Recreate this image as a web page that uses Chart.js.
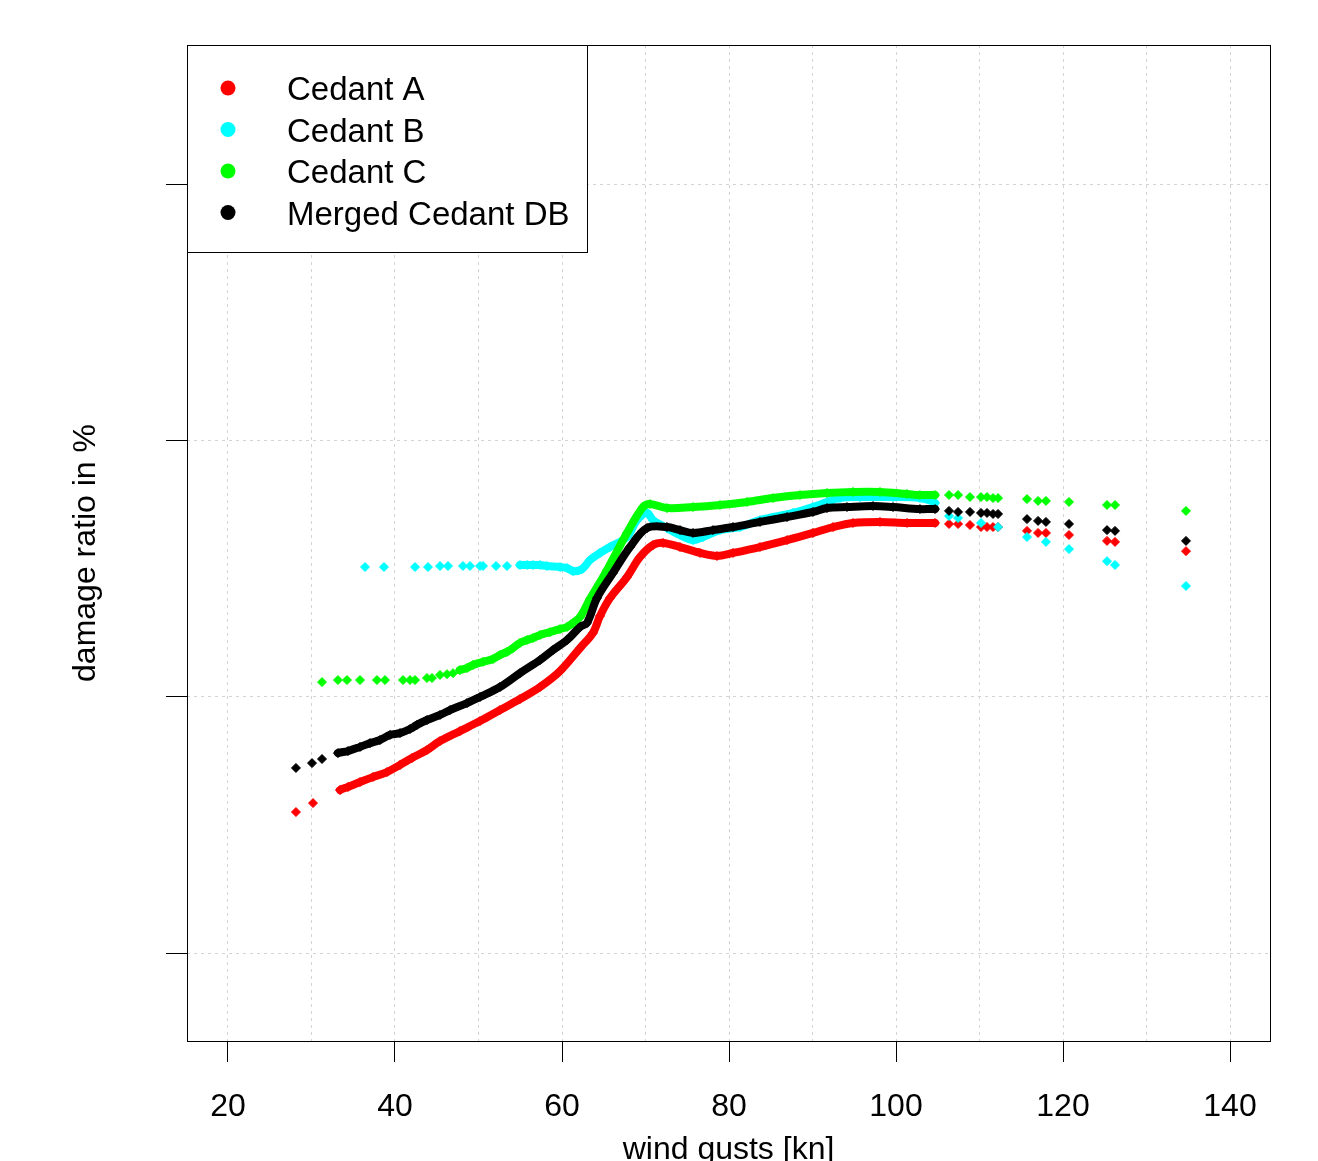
<!DOCTYPE html>
<html>
<head>
<meta charset="utf-8">
<title>Damage ratio vs wind gusts</title>
<script src="https://cdn.jsdelivr.net/npm/chart.js@4.4.0/dist/chart.umd.min.js"></script>
<style>
  html, body { margin: 0; padding: 0; background: #fff; }
</style>
</head>
<body>
<canvas id="damageChartEl" width="1318" height="1161"></canvas>
<script>
const FONT = "'Liberation Sans', Arial, Helvetica, sans-serif";

// wind gusts [kn] / damage ratio values
const cedantA_x = [28.14, 30.18, 33.41, 34.37, 35.81, 37.37, 39.04, 40.60, 42.04, 43.83, 45.39, 47.78, 50.18, 52.57, 54.97, 57.37, 59.76, 62.16, 63.71, 64.55, 65.75, 67.78, 69.34, 70.90, 72.10, 74.13, 76.53, 78.56, 80.48, 83.71, 86.95, 90.06, 92.46, 94.85, 98.08, 101.32, 104.67, 106.35, 107.43, 108.86, 110.18, 110.90, 111.62, 112.22, 115.69, 117.01, 117.96, 120.72, 125.27, 126.23, 134.73];
const cedantA_y = [5.50, 5.85, 6.36, 6.48, 6.67, 6.87, 7.06, 7.34, 7.61, 7.92, 8.27, 8.66, 9.05, 9.48, 9.91, 10.38, 11.00, 11.90, 12.49, 13.15, 13.85, 14.67, 15.45, 15.92, 16.00, 15.84, 15.61, 15.49, 15.61, 15.84, 16.11, 16.39, 16.62, 16.78, 16.82, 16.78, 16.78, 16.74, 16.74, 16.70, 16.62, 16.62, 16.62, 16.62, 16.47, 16.39, 16.39, 16.31, 16.08, 16.04, 15.68];

const cedantB_x = [36.41, 38.68, 42.40, 43.95, 45.39, 46.35, 48.14, 48.98, 50.18, 50.54, 52.10, 53.41, 54.97, 55.81, 56.53, 57.37, 58.20, 59.76, 60.60, 61.32, 62.40, 63.35, 64.55, 65.75, 67.78, 68.98, 70.18, 70.90, 72.57, 74.13, 75.69, 76.89, 78.92, 81.32, 83.71, 87.66, 90.06, 91.74, 93.29, 95.69, 99.64, 102.87, 104.67, 106.35, 107.43, 110.18, 112.22, 115.69, 117.96, 120.72, 125.27, 126.23, 134.73];
const cedantB_y = [15.06, 15.06, 15.06, 15.06, 15.10, 15.10, 15.10, 15.10, 15.10, 15.10, 15.10, 15.10, 15.14, 15.14, 15.14, 15.14, 15.10, 15.06, 15.02, 14.90, 14.98, 15.33, 15.61, 15.84, 16.23, 16.89, 17.17, 16.89, 16.58, 16.31, 16.11, 16.23, 16.50, 16.62, 16.89, 17.17, 17.40, 17.60, 17.75, 17.79, 17.79, 17.75, 17.56, 17.05, 16.97, 16.78, 16.62, 16.23, 16.04, 15.76, 15.29, 15.14, 14.32];

const cedantC_x = [31.26, 33.17, 34.25, 35.81, 37.84, 38.80, 40.96, 41.80, 42.40, 43.83, 44.43, 45.39, 46.23, 46.95, 47.78, 48.62, 49.34, 50.54, 51.74, 52.57, 53.41, 54.13, 54.97, 55.81, 56.53, 57.37, 58.56, 59.76, 60.60, 61.32, 62.16, 63.35, 65.39, 67.78, 69.70, 70.54, 72.57, 75.69, 78.92, 82.16, 85.27, 88.50, 91.74, 94.85, 98.08, 101.32, 102.87, 104.67, 106.35, 107.43, 108.86, 110.18, 110.90, 111.62, 112.22, 115.69, 117.01, 117.96, 120.72, 125.27, 126.23, 134.73];
const cedantC_y = [10.57, 10.65, 10.65, 10.65, 10.65, 10.65, 10.65, 10.65, 10.65, 10.73, 10.73, 10.85, 10.88, 10.92, 11.04, 11.12, 11.24, 11.36, 11.47, 11.63, 11.75, 11.90, 12.10, 12.21, 12.29, 12.41, 12.52, 12.64, 12.72, 12.88, 13.11, 13.81, 14.94, 16.39, 17.40, 17.52, 17.36, 17.40, 17.48, 17.60, 17.75, 17.87, 17.95, 17.99, 17.99, 17.91, 17.87, 17.87, 17.87, 17.87, 17.79, 17.79, 17.79, 17.75, 17.75, 17.71, 17.64, 17.64, 17.60, 17.48, 17.48, 17.25];

const merged_x = [28.14, 30.06, 31.26, 33.17, 34.37, 35.81, 37.01, 38.20, 39.40, 40.60, 41.80, 42.63, 43.83, 45.39, 46.59, 48.62, 50.18, 52.57, 54.97, 57.37, 58.92, 60.60, 62.16, 62.99, 64.19, 66.11, 68.14, 70.18, 72.57, 74.13, 75.69, 78.08, 80.48, 83.71, 86.95, 90.06, 91.74, 94.13, 97.25, 99.64, 102.87, 104.67, 106.35, 107.43, 108.86, 110.18, 110.90, 111.62, 112.22, 115.69, 117.01, 117.96, 120.72, 125.27, 126.23, 134.73];
const merged_y = [7.22, 7.41, 7.57, 7.80, 7.88, 8.04, 8.19, 8.31, 8.51, 8.58, 8.74, 8.90, 9.09, 9.29, 9.48, 9.75, 9.99, 10.38, 10.92, 11.43, 11.82, 12.21, 12.72, 12.88, 13.85, 14.83, 15.84, 16.58, 16.62, 16.50, 16.39, 16.50, 16.62, 16.82, 17.01, 17.21, 17.36, 17.40, 17.44, 17.40, 17.32, 17.32, 17.25, 17.21, 17.21, 17.17, 17.17, 17.13, 17.13, 16.93, 16.86, 16.82, 16.74, 16.50, 16.47, 16.08];

// x ranges where the points are so dense they merge into a band
const cedantA_band = [33, 105];
const cedantB_band = [54.5, 105];
const cedantC_band = [47.5, 105];
const merged_band = [33, 105];

const xGridValues = [20, 30, 40, 50, 60, 70, 80, 90, 100, 110, 120, 130, 140];
const xLabelStep = 20;
const yTickValues = [0, 10, 20, 30];

function toPoints(xs, ys) {
  return xs.map((x, i) => ({ x: x, y: ys[i] }));
}

function makeSeries(label, color, xs, ys, band, order) {
  return {
    label: label,
    data: toPoints(xs, ys),
    order: order,
    showLine: true,
    borderColor: color,
    backgroundColor: color,
    borderWidth: 8,
    borderCapStyle: 'round',
    borderJoinStyle: 'round',
    tension: 0.35,
    pointStyle: 'rectRot',
    pointRadius: 4.5,
    pointBorderWidth: 1,
    pointBorderColor: color,
    pointBackgroundColor: color,
    segment: {
      borderColor: ctx => (ctx.p0.parsed.x >= band[0] && ctx.p1.parsed.x <= band[1]) ? color : 'rgba(0,0,0,0)'
    }
  };
}

// plot box, legend and axis titles drawn R-style
const framePlugin = {
  id: 'frame',
  afterDraw(chart) {
    const { ctx, chartArea: a } = chart;
    ctx.save();
    ctx.strokeStyle = '#000';
    ctx.lineWidth = 1;
    ctx.strokeRect(a.left + 0.5, a.top + 0.5, a.right - a.left, a.bottom - a.top);

    // legend
    const lx = a.left, ly = a.top, lw = 400, lh = 207;
    ctx.fillStyle = '#fff';
    ctx.fillRect(lx + 1, ly + 1, lw - 1, lh - 1);
    ctx.strokeRect(lx + 0.5, ly + 0.5, lw, lh);
    ctx.font = '33px ' + FONT;
    ctx.textAlign = 'left';
    ctx.textBaseline = 'alphabetic';
    chart.data.datasets.forEach((ds, i) => {
      const cy = ly + 43 + i * 41.5;
      ctx.beginPath();
      ctx.arc(lx + 41, cy, 7.5, 0, Math.PI * 2);
      ctx.fillStyle = ds.backgroundColor;
      ctx.fill();
      ctx.fillStyle = '#000';
      ctx.fillText(ds.label, lx + 100, cy + 12);
    });

    // axis titles
    ctx.font = '32px ' + FONT;
    ctx.fillStyle = '#000';
    ctx.textAlign = 'center';
    ctx.fillText('wind gusts [kn]', (a.left + a.right) / 2, 1159);
    ctx.translate(95, 553);
    ctx.rotate(-Math.PI / 2);
    ctx.fillText('damage ratio in %', 0, 0);
    ctx.restore();
  }
};

const gridStyle = {
  color: '#d3d3d3',
  lineWidth: 1,
  drawTicks: true,
  tickLength: 21,
  tickWidth: 1
};

new Chart(document.getElementById('damageChartEl'), {
  type: 'scatter',
  data: {
    datasets: [
      makeSeries('Cedant A', '#ff0000', cedantA_x, cedantA_y, cedantA_band, 4),
      makeSeries('Cedant B', '#00ffff', cedantB_x, cedantB_y, cedantB_band, 3),
      makeSeries('Cedant C', '#00ff00', cedantC_x, cedantC_y, cedantC_band, 2),
      makeSeries('Merged Cedant DB', '#000000', merged_x, merged_y, merged_band, 1)
    ]
  },
  options: {
    responsive: false,
    animation: false,
    devicePixelRatio: 1,
    events: [],
    layout: { padding: { top: 45, right: 48, left: 0, bottom: 0 } },
    plugins: {
      legend: { display: false },
      tooltip: { enabled: false }
    },
    scales: {
      x: {
        type: 'linear',
        min: 15.09,
        max: 144.79,
        afterBuildTicks: scale => { scale.ticks = xGridValues.map(v => ({ value: v })); },
        afterFit: scale => { scale.height = 120; },
        grid: {
          ...gridStyle,
          tickColor: ctx => (ctx.tick && ctx.tick.value % xLabelStep === 0) ? '#000' : 'rgba(0,0,0,0)'
        },
        border: { display: false, dash: [3, 4] },
        ticks: {
          autoSkip: false,
          maxRotation: 0,
          padding: 26,
          color: '#000',
          font: { family: FONT, size: 32 },
          callback: v => (v % xLabelStep === 0 ? String(v) : '')
        }
      },
      y: {
        type: 'linear',
        min: -3.433,
        max: 35.428,
        afterBuildTicks: scale => { scale.ticks = yTickValues.map(v => ({ value: v })); },
        afterFit: scale => { scale.width = 187; },
        grid: { ...gridStyle, tickColor: '#000' },
        border: { display: false, dash: [3, 4] },
        ticks: { display: false }
      }
    }
  },
  plugins: [framePlugin]
});
</script>
</body>
</html>
